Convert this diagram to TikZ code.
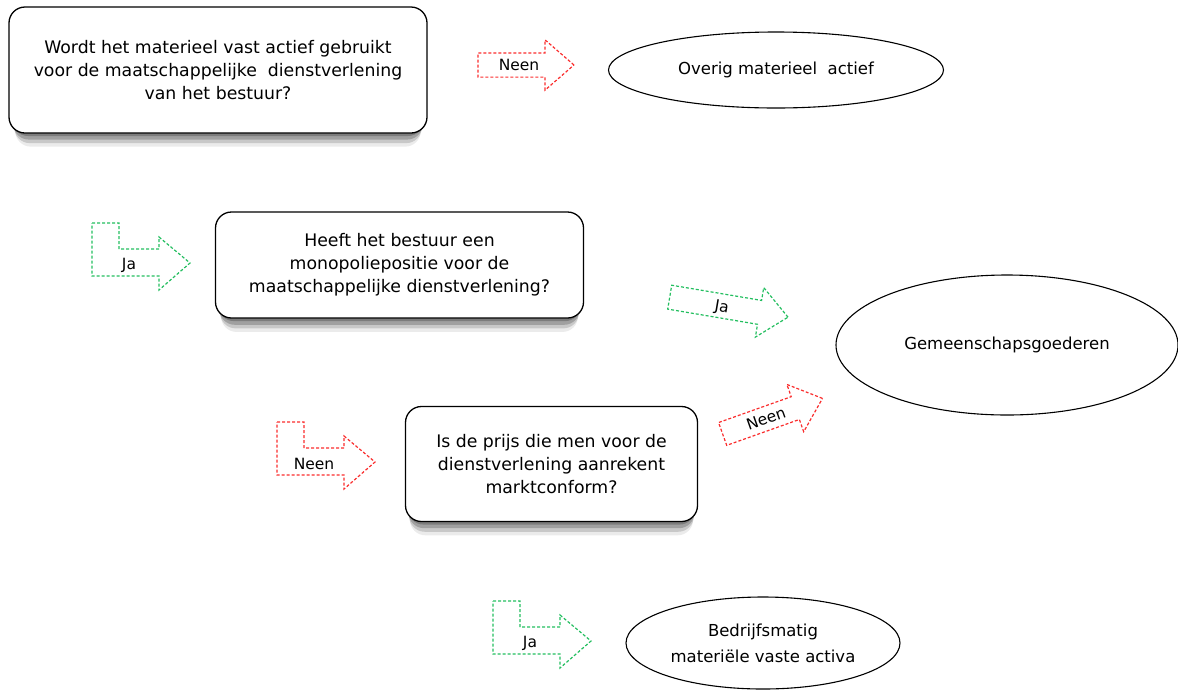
\documentclass[tikz,border=0pt]{standalone}
\usepackage{fontspec}
\setmainfont{DejaVu Sans}
\usepackage{tikz}
\usetikzlibrary{shapes.geometric, shapes.arrows, shadows}
\definecolor{neenred}{RGB}{250, 45, 45}
\definecolor{jagreen}{RGB}{35, 190, 95}

\tikzset{
    softshadow/.style={
        drop shadow={shadow xshift=0pt, shadow yshift=-4pt, shadow scale=0.985, opacity=0.22, fill=black},
        drop shadow={shadow xshift=0pt, shadow yshift=-8pt, shadow scale=0.98, opacity=0.2, fill=black},
        drop shadow={shadow xshift=0pt, shadow yshift=-12pt, shadow scale=0.975, opacity=0.15, fill=black},
        drop shadow={shadow xshift=0pt, shadow yshift=-16pt, shadow scale=0.97, opacity=0.08, fill=black}},
    pics/bentarrow/.style args={#1/#2}{code={
        \draw[#1] (0,0) -- (27,0) -- (27,26) -- (67,26) -- (67,14) -- (98,40)
            -- (67,67) -- (67,53) -- (0,53) -- cycle;
        \node[answer] (-label) at (37,42) {#2};
    }}
}

\begin{document}
\begin{tikzpicture}[
    x=1pt, y=-1pt,
    question/.style={draw, line width=1.3pt, rounded corners=16pt, fill=white, align=center, inner sep=0pt,
        font=\fontsize{17.3}{23}\selectfont, softshadow},
    outcome/.style={draw, ellipse, line width=1.1pt, inner sep=0pt, align=center, font=\fontsize{16.5}{26}\selectfont},
    answer/.style={font=\fontsize{15.5}{18}\selectfont, inner sep=0pt},
    neen/.style={draw=neenred, dash pattern=on 3pt off 2pt, line width=1.2pt},
    ja/.style={draw=jagreen, dash pattern=on 3pt off 2pt, line width=1.2pt},
    blockarrow/.style={single arrow, single arrow head extend=13pt, single arrow tip angle=82,
        text height=11pt, text depth=0pt, inner ysep=6pt, inner xsep=2pt, font=\fontsize{15.5}{18}\selectfont}
]
    \useasboundingbox (0,0) rectangle (1178,689);

    % Questions
    \node[question, minimum width=418pt, minimum height=126pt] (gebruik) at (218,70)
        {Wordt het materieel vast actief gebruikt\\voor de maatschappelijke\ \ dienstverlening\\van het bestuur?};
    \node[question, minimum width=368pt, minimum height=106pt] (monopolie) at (399.5,265)
        {Heeft het bestuur een\\monopoliepositie voor de\\maatschappelijke dienstverlening?};
    \node[question, minimum width=292pt, minimum height=115pt] (prijs) at (551.5,464)
        {Is de prijs die men voor de\\dienstverlening aanrekent\\marktconform?};

    % Outcomes
    \node[outcome, minimum width=335pt, minimum height=76pt] (overig) at (776,70) {Overig materieel\ \ actief};
    \node[outcome, minimum width=342pt, minimum height=140pt] (gemeen) at (1007,345) {Gemeenschapsgoederen};
    \node[outcome, minimum width=274pt, minimum height=92pt] (bedrijf) at (763,643) {Bedrijfsmatig\\materiële vaste activa};

    % Answers
    \node[blockarrow, neen, minimum height=96pt] (neenone) at (519,65) {Neen};
    \node[blockarrow, ja, minimum height=120pt, rotate=-9.6] (jatwo) at (722,306) {Ja};
    \node[blockarrow, neen, minimum height=106pt, rotate=19.6] (neentwo) at (766,418.5) {Neen};
    \pic (jaone) at (92,223) {bentarrow=ja/Ja};
    \pic (neenthree) at (277,422) {bentarrow=neen/Neen};
    \pic (jathree) at (493,601) {bentarrow=ja/Ja};
\end{tikzpicture}
\end{document}
